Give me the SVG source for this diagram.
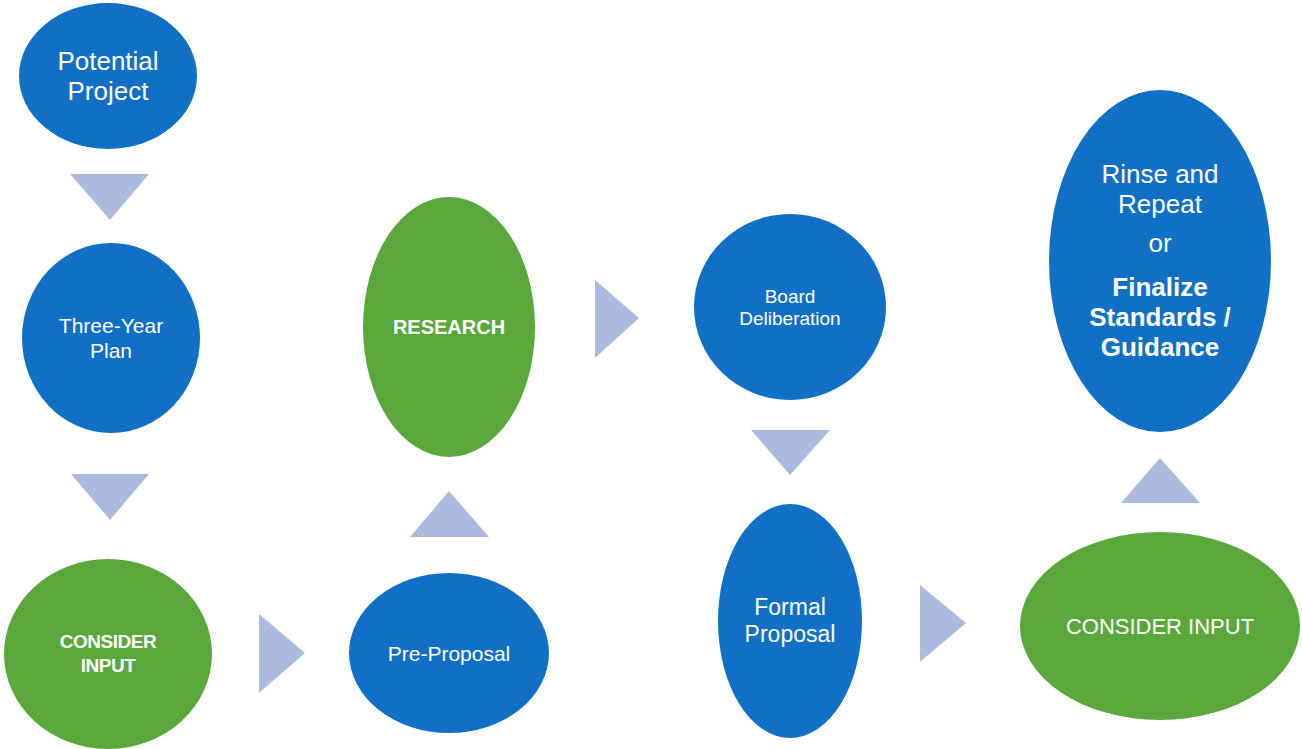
<svg xmlns="http://www.w3.org/2000/svg" width="1302" height="749" viewBox="0 0 1302 749">
<style>
.blue{fill:#1170C6}
.green{fill:#5AA83C}
.arr{fill:#ABBBDF}
text{fill:#FFFFFF;font-family:"Liberation Sans",Arial,sans-serif;text-anchor:middle}
.b{font-weight:bold}
</style>
<rect width="1302" height="749" fill="#FFFFFF"/>
<g id="connectors">
<polygon class="arr" points="70,174 149,174 110,220"/>
<polygon class="arr" points="71,474 149,474 110,520"/>
<polygon class="arr" points="259,614 259,693 305,653"/>
<polygon class="arr" points="410,537 489,537 449,491"/>
<polygon class="arr" points="595,280 595,358 639,318"/>
<polygon class="arr" points="751,430 830,430 790,475"/>
<polygon class="arr" points="920,585 920,662 966,623"/>
<polygon class="arr" points="1121,503 1200,503 1160,458"/>
</g>
<g id="potential-project">
<ellipse class="blue" cx="108" cy="76" rx="89" ry="73"/>
<text x="108" y="70" font-size="26">Potential</text>
<text x="108" y="100" font-size="26">Project</text>
</g>
<g id="three-year-plan">
<ellipse class="blue" cx="111" cy="338" rx="89" ry="95"/>
<text x="111" y="333" font-size="21">Three-Year</text>
<text x="111" y="358" font-size="21">Plan</text>
</g>
<g id="consider-input-1">
<ellipse class="green" cx="108" cy="654" rx="104" ry="95"/>
<text class="b" x="108" y="648" font-size="19" letter-spacing="-0.5">CONSIDER</text>
<text class="b" x="108" y="672" font-size="19" letter-spacing="-0.5">INPUT</text>
</g>
<g id="pre-proposal">
<ellipse class="blue" cx="449" cy="653" rx="100" ry="80"/>
<text x="449" y="661" font-size="21">Pre-Proposal</text>
</g>
<g id="research">
<ellipse class="green" cx="449" cy="327" rx="86" ry="130"/>
<text class="b" x="449" y="334" font-size="20">RESEARCH</text>
</g>
<g id="board-deliberation">
<ellipse class="blue" cx="790" cy="307" rx="96" ry="93"/>
<text x="790" y="303" font-size="19">Board</text>
<text x="790" y="325" font-size="19">Deliberation</text>
</g>
<g id="formal-proposal">
<ellipse class="blue" cx="790" cy="621" rx="72" ry="117"/>
<text x="790" y="615" font-size="23">Formal</text>
<text x="790" y="642" font-size="23">Proposal</text>
</g>
<g id="consider-input-2">
<ellipse class="green" cx="1160" cy="626" rx="140" ry="94"/>
<text x="1160" y="634" font-size="22">CONSIDER INPUT</text>
</g>
<g id="rinse-finalize">
<ellipse class="blue" cx="1160" cy="261" rx="111" ry="171"/>
<text x="1160" y="183" font-size="26">Rinse and</text>
<text x="1160" y="213" font-size="26">Repeat</text>
<text x="1160" y="252" font-size="26">or</text>
<text class="b" x="1160" y="296" font-size="26">Finalize</text>
<text class="b" x="1160" y="326" font-size="26">Standards /</text>
<text class="b" x="1160" y="356" font-size="26">Guidance</text>
</g>
</svg>
